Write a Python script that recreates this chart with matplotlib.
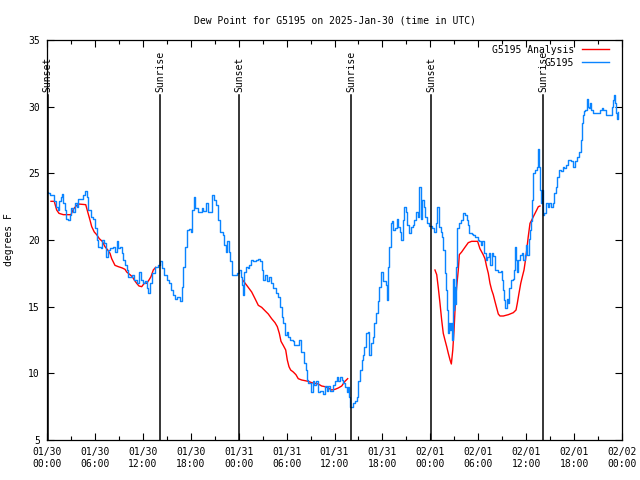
import matplotlib
matplotlib.use("Agg")
import matplotlib.pyplot as plt
from matplotlib.ticker import MultipleLocator

# hours since 2025-01-30 00:00 UTC
obs_hours = [0.0, 0.16, 0.38, 0.66, 0.91, 1.09, 1.34, 1.50, 1.75, 1.92, 2.04, 2.25, 2.44, 2.59, 2.88, 3.00,
             3.29, 3.51, 3.72, 3.92, 4.34, 4.54, 4.76, 4.97, 5.17, 5.51, 5.80, 6.01, 6.22, 6.42, 6.76, 6.92,
             7.17, 7.35, 7.60, 7.89, 8.30, 8.51, 8.73, 8.93, 9.14, 9.35, 9.55, 9.77, 9.98, 10.18, 10.52, 10.68,
             10.93, 11.23, 11.52, 11.77, 12.06, 12.27, 12.48, 12.68, 12.90, 13.18, 13.52, 13.86, 14.15, 14.36,
             14.69, 14.99, 15.27, 15.52, 15.81, 16.03, 16.24, 16.44, 16.65, 16.86, 17.07, 17.28, 17.49, 17.78,
             18.03, 18.19, 18.37, 18.53, 18.94, 19.37, 19.57, 19.91, 20.19, 20.62, 20.91, 21.16, 21.45, 21.66,
             22.00, 22.20, 22.41, 22.57, 22.79, 22.91, 23.12, 23.54, 23.83, 24.08, 24.29, 24.45, 24.58, 24.70,
             24.91, 25.13, 25.33, 25.54, 25.83, 26.17, 26.45, 26.67, 26.88, 27.01, 27.29, 27.51, 27.79, 28.04,
             28.33, 28.67, 28.96, 29.17, 29.38, 29.58, 29.80, 30.01, 30.21, 30.42, 30.76, 30.96, 31.26, 31.59,
             31.80, 32.01, 32.18, 32.39, 32.51, 32.71, 33.02, 33.27, 33.43, 33.68, 33.89, 34.18, 34.39, 34.59,
             34.81, 35.02, 35.22, 35.43, 35.77, 36.06, 36.27, 36.47, 36.68, 36.90, 37.10, 37.31, 37.52, 37.65,
             37.81, 37.90, 38.15, 38.35, 38.56, 38.77, 38.98, 39.19, 39.40, 39.60, 39.73, 39.90, 40.15, 40.35,
             40.56, 40.78, 40.98, 41.19, 41.40, 41.60, 41.82, 42.03, 42.23, 42.44, 42.60, 42.73, 42.86, 43.03,
             43.16, 43.36, 43.57, 43.78, 43.98, 44.20, 44.32, 44.53, 44.70, 44.91, 45.11, 45.32, 45.54, 45.79,
             45.99, 46.20, 46.41, 46.61, 46.82, 46.99, 47.16, 47.33, 47.54, 47.83, 48.16, 48.45, 48.70, 48.87,
             49.08, 49.29, 49.49, 49.62, 49.83, 49.95, 50.08, 50.17, 50.29, 50.42, 50.54, 50.67, 50.79, 50.92,
             50.99, 51.12, 51.24, 51.37, 51.58, 51.83, 52.12, 52.33, 52.55, 52.75, 52.87, 53.17, 53.37, 53.59,
             53.80, 53.92, 54.09, 54.30, 54.50, 54.71, 54.75, 54.92, 55.12, 55.34, 55.47, 55.68, 55.88, 56.09,
             56.51, 56.81, 56.94, 57.14, 57.26, 57.39, 57.57, 57.77, 57.89, 58.10, 58.32, 58.44, 58.57, 58.69,
             58.82, 59.02, 59.23, 59.44, 59.64, 59.85, 59.98, 60.14, 60.32, 60.48, 60.57, 60.70, 60.82, 60.90,
             61.11, 61.32, 61.45, 61.52, 61.61, 61.73, 61.82, 61.94, 62.07, 62.27, 62.48, 62.70, 62.90, 63.11,
             63.32, 63.49, 63.70, 63.90, 64.11, 64.36, 64.57, 64.77, 64.98, 65.27, 65.57, 65.90, 66.11, 66.40,
             66.65, 66.82, 66.94, 67.07, 67.23, 67.40, 67.57, 67.70, 67.86, 67.98, 68.11, 68.32, 68.61, 69.02,
             69.24, 69.45, 69.65, 69.95, 70.28, 70.49, 70.70, 70.83, 70.99, 71.12, 71.24, 71.37, 71.49]
obs_dewpt = [23.6, 23.5, 23.4, 23.4, 22.9, 22.5, 22.25, 22.9, 23.25, 23.45, 22.75, 22.25, 21.6, 21.5, 21.9, 22.4,
             22.1, 22.75, 22.5, 23.05, 23.05, 23.4, 23.7, 23.25, 22.25, 21.75, 21.6, 20.9, 20.0, 19.5, 19.4, 20.0,
             19.8, 18.75, 19.25, 19.4, 19.45, 19.1, 19.9, 19.4, 19.5, 19.0, 18.5, 18.1, 17.75, 17.25, 17.2, 17.4,
             17.0, 16.75, 17.6, 17.0, 16.75, 16.9, 16.4, 16.0, 16.75, 17.5, 18.0, 18.1, 18.45, 17.9,
             17.4, 17.0, 16.75, 16.25, 15.9, 15.6, 15.75, 15.75, 15.4, 16.5, 18.0, 19.5, 20.75, 20.8,
             20.6, 22.25, 23.25, 22.4, 22.1, 22.4, 22.2, 22.75, 22.1, 23.4, 23.0, 22.6, 21.5, 20.6,
             20.4, 19.6, 19.1, 19.9, 19.1, 18.4, 17.4, 17.4, 17.5, 17.75, 17.25, 16.6, 15.9, 17.6,
             18.0, 17.9, 18.1, 18.5, 18.4, 18.5, 18.55, 18.4, 17.75, 17.0, 17.4, 16.9, 17.25, 16.75,
             16.4, 16.0, 15.75, 15.0, 14.25, 13.75, 12.9, 13.1, 12.75, 12.5, 12.4, 12.1, 12.1, 12.5,
             11.6, 11.6, 10.75, 10.25, 9.5, 9.25, 8.6, 9.45, 9.1, 9.45, 8.6, 8.7, 8.7, 8.45,
             9.05, 8.7, 9.05, 8.7, 9.1, 9.4, 9.75, 9.4, 9.75, 9.5, 9.25, 9.0, 8.6, 9.0,
             8.25, 7.5, 7.45, 7.75, 7.9, 8.25, 9.4, 10.25, 11.0, 11.4, 12.0, 13.0, 13.1, 11.4,
             12.25, 12.75, 13.75, 14.5, 15.4, 16.5, 17.6, 16.9, 16.9, 16.6, 15.5, 18.0, 19.5, 21.25,
             21.4, 20.75, 20.9, 21.6, 21.0, 20.6, 20.0, 21.5, 22.45, 22.1, 21.1, 20.5, 21.0, 21.1,
             21.5, 22.1, 21.75, 23.95, 21.6, 23.0, 22.5, 21.75, 21.25, 21.05, 20.9, 20.6, 21.25, 22.45,
             21.0, 20.6, 20.25, 19.25, 17.5, 16.25, 14.75, 13.0, 13.75, 13.25, 13.75, 12.5, 17.1, 14.75,
             16.5, 15.2, 18.0, 20.9, 21.25, 21.5, 22.0, 21.9, 21.5, 21.1, 20.5, 20.45, 20.4, 20.25,
             20.25, 20.0, 19.9, 19.6, 19.9, 19.75, 19.0, 18.5, 18.75, 19.0, 18.1, 19.0, 18.8, 17.75,
             17.6, 17.7, 17.0, 16.25, 15.5, 14.9, 15.6, 15.25, 16.4, 17.0, 17.1, 17.75, 19.5, 18.5,
             17.6, 18.5, 18.9, 19.0, 18.5, 18.9, 19.6, 18.9, 20.1, 20.75, 21.4, 23.0, 24.4, 25.0,
             25.25, 25.5, 26.0, 26.8, 25.5, 23.75, 22.75, 23.75, 21.9, 22.0, 22.75, 22.5, 22.75, 22.5,
             22.75, 23.5, 24.0, 24.75, 25.25, 25.2, 25.5, 25.4, 25.6, 26.0, 25.9, 25.5, 25.9, 26.25,
             26.6, 27.5, 28.75, 29.4, 29.7, 29.75, 30.55, 30.0, 29.9, 30.3, 29.75, 29.5, 29.5, 29.5,
             29.75, 29.9, 29.75, 29.4, 29.4, 29.4, 30.0, 30.5, 30.9, 30.25, 29.5, 29.05, 29.6]

# analysis series: three separate segments (gaps between them)
ana_hours_1 = [0.50, 0.91, 1.21, 1.50, 2.04, 2.59, 3.00, 3.29, 3.72, 3.92, 4.85, 5.10, 5.38, 5.60, 5.92, 6.22,
               6.55, 6.92, 7.26, 7.60, 7.89, 8.10, 8.51, 8.93, 9.43, 9.77, 9.98, 10.39, 10.68, 10.93, 11.23,
               11.52, 11.86, 12.18, 12.48, 12.77, 13.02, 13.31, 13.61]
ana_dewpt_1 = [22.9, 22.9, 22.25, 22.0, 21.9, 21.9, 21.9, 22.3, 22.6, 22.7, 22.65, 22.1, 21.5, 21.0, 20.6, 20.4,
               20.1, 19.9, 19.5, 19.25, 19.0, 18.6, 18.1, 18.0, 17.9, 17.8, 17.6, 17.4, 17.25, 17.0, 16.75,
               16.55, 16.5, 16.75, 16.75, 17.0, 17.25, 17.75, 17.95]
ana_hours_2 = [24.50, 25.01, 25.63, 26.05, 26.46, 26.88, 27.29, 27.71, 28.13, 28.55, 28.84, 29.09, 29.30, 29.58,
               29.89, 30.09, 30.30, 30.51, 30.84, 31.17, 31.46, 31.89, 32.30, 32.71, 33.14, 33.55, 33.97, 34.39,
               34.81, 35.22, 35.64, 36.06, 36.47, 36.90, 37.31, 37.65]
ana_dewpt_2 = [17.0, 16.6, 16.1, 15.6, 15.1, 14.95, 14.7, 14.45, 14.1, 13.8, 13.5, 13.0, 12.4, 12.1,
               11.75, 11.0, 10.5, 10.25, 10.1, 9.9, 9.6, 9.5, 9.45, 9.4, 9.3, 9.25, 9.2, 9.05,
               9.0, 8.9, 8.75, 8.8, 8.9, 9.05, 9.4, 9.6]
ana_hours_3 = [48.58, 48.80, 49.00, 49.21, 49.42, 49.62, 49.83, 50.05, 50.25, 50.47, 50.63, 50.81, 50.97, 51.13,
               51.30, 51.50, 51.63, 51.92, 52.33, 52.75, 53.17, 53.59, 53.92, 54.21, 54.62, 54.84, 55.05, 55.26,
               55.47, 55.68, 55.88, 56.09, 56.31, 56.51, 56.72, 57.14, 57.77, 58.39, 58.73, 58.89, 59.10, 59.32,
               59.52, 59.73, 59.89, 60.07, 60.26, 60.48, 60.70, 60.90, 61.11, 61.32, 61.52, 61.73]
ana_dewpt_3 = [17.75, 17.4, 16.4, 15.25, 14.0, 13.0, 12.5, 12.0, 11.5, 11.0, 10.7, 11.75, 13.25, 15.25,
               16.5, 17.75, 18.9, 19.1, 19.45, 19.8, 19.9, 19.9, 19.9, 19.35, 18.9, 18.6, 18.0, 17.5,
               16.75, 16.25, 15.9, 15.4, 14.9, 14.45, 14.3, 14.3, 14.4, 14.55, 14.75, 15.25, 16.0, 16.75,
               17.25, 17.75, 18.4, 19.25, 20.25, 21.25, 21.5, 21.75, 22.0, 22.25, 22.5, 22.55]

sun_hours = [0.1, 14.15, 24.05, 38.07, 48.08, 62.1]
sun_labels = ["Sunset", "Sunrise", "Sunset", "Sunrise", "Sunset", "Sunrise"]

xtick_hours = [0, 6, 12, 18, 24, 30, 36, 42, 48, 54, 60, 66, 72]
xtick_labels = ["01/30\n00:00", "01/30\n06:00", "01/30\n12:00", "01/30\n18:00",
                "01/31\n00:00", "01/31\n06:00", "01/31\n12:00", "01/31\n18:00",
                "02/01\n00:00", "02/01\n06:00", "02/01\n12:00", "02/01\n18:00",
                "02/02\n00:00"]
ytick_values = [5, 10, 15, 20, 25, 30, 35]

plt.rcParams['font.family'] = ['DejaVu Sans Mono']
plt.rcParams['font.size'] = 7

fig = plt.figure(figsize=(6.4, 4.8), dpi=100)
ax = fig.add_axes([47/640, 40/480, 575/640, 400/480])

red = "#ff0000"
blue = "#0a84ff"
ax.plot(ana_hours_1, ana_dewpt_1, color=red, lw=1.0, label="G5195 Analysis")
ax.plot(ana_hours_2, ana_dewpt_2, color=red, lw=1.0)
ax.plot(ana_hours_3, ana_dewpt_3, color=red, lw=1.0)
ax.plot(obs_hours, obs_dewpt, color=blue, lw=1.0, label="G5195", drawstyle="steps-post")

for h, lab in zip(sun_hours, sun_labels):
    ax.axvline(h, ymin=0, ymax=0.862, color="black", lw=1.1)
    ax.text(h, 0.87, lab, rotation=90, transform=ax.get_xaxis_transform(),
            ha="center", va="bottom", fontsize=7)

ax.set_xlim(0, 72)
ax.set_ylim(5, 35)
ax.set_xticks(xtick_hours)
ax.set_xticklabels(xtick_labels)
ax.xaxis.set_minor_locator(MultipleLocator(3))
ax.set_yticks(ytick_values)
ax.tick_params(which="both", direction="in", top=True, right=True, width=0.8)
ax.tick_params(which="major", length=5, pad=5)
ax.tick_params(which="minor", length=3)
for s in ax.spines.values():
    s.set_linewidth(0.9)

ax.set_ylabel("degrees F", labelpad=10)
ax.set_title("Dew Point for G5195 on 2025-Jan-30 (time in UTC)", pad=12, fontsize=7)

ax.legend(loc="upper right", bbox_to_anchor=(0.993, 1.01), frameon=False, markerfirst=False,
          handlelength=2.8, handletextpad=0.8, borderaxespad=0.5, labelspacing=0.3, fontsize=7)

fig.savefig("out.png", dpi=100)
